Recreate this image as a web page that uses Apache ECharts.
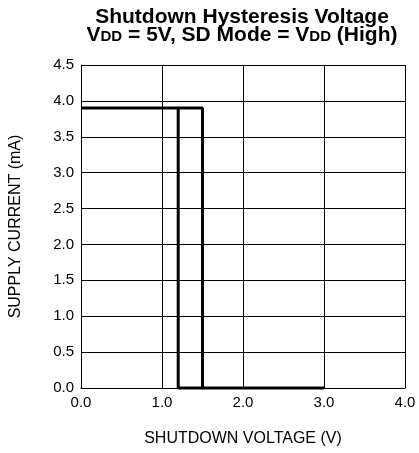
<!DOCTYPE html>
<html><head><meta charset="utf-8">
<script src="https://cdn.jsdelivr.net/npm/echarts@6/dist/echarts.min.js"></script>
<style>html,body{margin:0;padding:0;background:#fff}#c{width:419px;height:453px}</style>
</head><body><div id="c"></div>
<script>
var titleLine1 = "Shutdown Hysteresis Voltage";
var titleLine2 = "V{sub|DD} = 5V, SD Mode = V{sub|DD} (High)";
var xAxisName = "SHUTDOWN VOLTAGE (V)";
var yAxisName = "SUPPLY CURRENT (mA)";
// Falling threshold path (turn-off at 1.2 V)
var pathLow = [[0, 3.9], [1.2, 3.9], [1.2, 0], [3.0, 0]];
// Rising threshold path (turn-on at 1.5 V)
var pathHigh = [[1.2, 3.9], [1.5, 3.9], [1.5, 0]];

var font = "Liberation Sans, Arial, sans-serif";
var chart = echarts.init(document.getElementById('c'), null, {renderer: 'canvas'});
chart.setOption({
  animation: false,
  backgroundColor: '#fff',
  title: {
    text: titleLine1 + "\n" + titleLine2,
    left: 237, top: 3, textAlign: 'center',
    textStyle: {
      fontFamily: font, fontSize: 21, fontWeight: 'bold', color: '#000', lineHeight: 18,
      rich: {
        sub: {fontFamily: font, fontSize: 15, fontWeight: 'bold', color: '#000', verticalAlign: 'bottom', padding: [9, 0, 0, 0], lineHeight: 18}
      }
    }
  },
  grid: {left: 81, right: 14, top: 65, bottom: 65, containLabel: false},
  xAxis: {
    type: 'value', min: 0, max: 4, interval: 1,
    name: xAxisName, nameLocation: 'middle', nameGap: 43,
    nameTextStyle: {fontFamily: font, fontSize: 16, color: '#000'},
    axisLine: {show: true, lineStyle: {color: '#000', width: 1}},
    axisTick: {show: false},
    axisLabel: {fontFamily: font, fontSize: 15, color: '#000', margin: 7, formatter: function(v){return v.toFixed(1);}},
    splitLine: {show: true, lineStyle: {color: '#000', width: 1}}
  },
  yAxis: {
    type: 'value', min: 0, max: 4.5, interval: 0.5,
    name: yAxisName, nameLocation: 'middle', nameGap: 57,
    nameTextStyle: {fontFamily: font, fontSize: 16, color: '#000'},
    axisLine: {show: true, lineStyle: {color: '#000', width: 1}},
    axisTick: {show: false},
    axisLabel: {fontFamily: font, fontSize: 15, color: '#000', margin: 7, formatter: function(v){return v.toFixed(1);}},
    splitLine: {show: true, lineStyle: {color: '#000', width: 1}}
  },
  series: [
    {type: 'line', data: pathLow, symbol: 'none', lineStyle: {color: '#000', width: 3}, clip: false},
    {type: 'line', data: pathHigh, symbol: 'none', lineStyle: {color: '#000', width: 3}, clip: false}
  ]
});
</script></body></html>
